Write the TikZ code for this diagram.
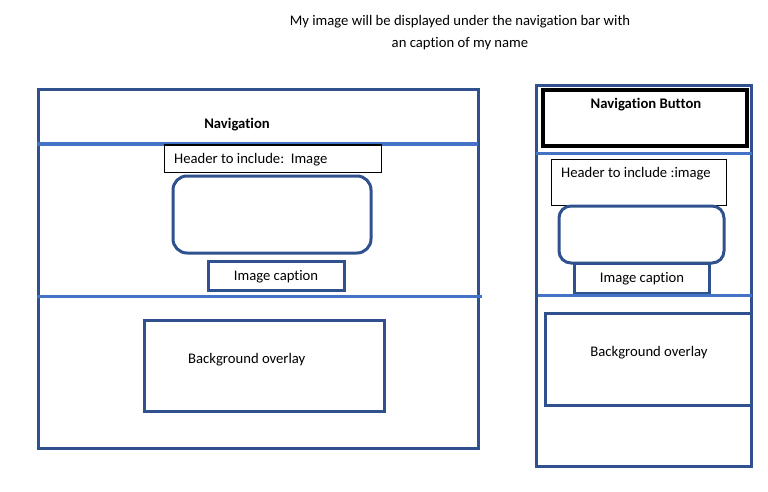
\documentclass[tikz,border=0pt]{standalone}
\usepackage{fontspec}
\setmainfont{Carlito}[Ligatures=NoCommon]
\usepackage{tikz}

\definecolor{frameblue}{HTML}{2F528F}
\definecolor{lineblue}{HTML}{4472C4}

\begin{document}
\begin{tikzpicture}[x=1pt,y=-1pt,
    frame/.style={draw=frameblue,line width=3pt},
    sepline/.style={draw=lineblue,line width=3pt},
    thinbox/.style={draw=black,line width=1pt},
    navbox/.style={draw=black,line width=3.4pt},
    lbl/.style={font=\fontsize{14.67}{16}\selectfont,inner sep=0pt},
    boldlbl/.style={lbl,font=\fontsize{14.67}{16}\selectfont\bfseries}]
    \useasboundingbox (0,0) rectangle (768,492);

    \node[lbl,align=center,font=\fontsize{14.67}{22}\selectfont] (title) at (460,33)
        {My image will be displayed under the navigation bar with\\an caption of my name};

    % large screen
    \draw[frame] (38,90) rectangle (478,448) ;
    \draw[sepline] (37,144) -- (478,144) ;
    \draw[sepline] (37,296) -- (482,296) ;
    \node[boldlbl] (nav) at (237,125) {Navigation};
    \draw[thinbox] (164,145) rectangle (381,172) ;
    \node[lbl,anchor=west] (head) at (174,160) {Header to include:\ \ Image};
    \draw[frame,rounded corners=14pt] (173,176) rectangle (371,253) ;
    \draw[frame] (208,261) rectangle (344,290) ;
    \node[lbl] (cap) at (276,277) {Image caption};
    \draw[frame] (144,320) rectangle (384,411) ;
    \node[lbl,anchor=west] (back) at (188,360) {Background overlay};

    % small screen
    \draw[frame] (536,86) rectangle (751,466) ;
    \draw[navbox] (543,90) rectangle (747,146) ;
    \node[boldlbl] (navbtn) at (646,105) {Navigation Button};
    \draw[sepline] (536,153) -- (752,153) ;
    \draw[thinbox] (551,159) rectangle (726,205) ;
    \node[lbl,anchor=west] (headsm) at (561,174) {Header to include :image};
    \draw[frame,rounded corners=12pt] (559,206) rectangle (724,263) ;
    \draw[frame] (574,263) rectangle (709,293) ;
    \node[lbl] (capsm) at (642,279) {Image caption};
    \draw[sepline] (538,295) -- (752,295) ;
    \draw[frame] (545,313) rectangle (751,405) ;
    \node[lbl] (backsm) at (649,353) {Background overlay};
\end{tikzpicture}
\end{document}
